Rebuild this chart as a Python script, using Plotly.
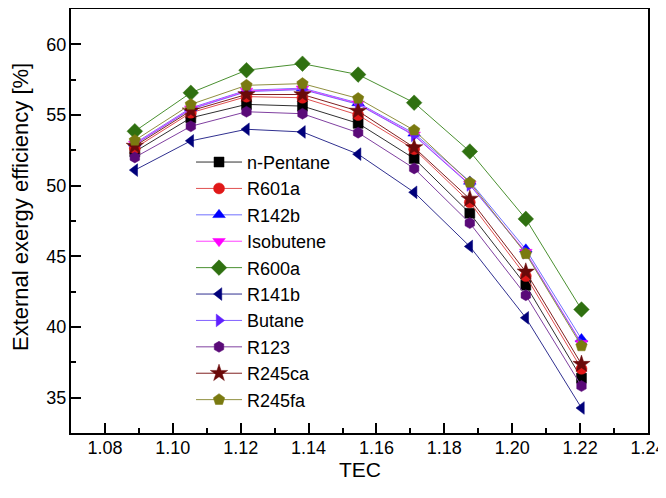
import plotly.graph_objects as go

tec = [1.0888, 1.1053, 1.1217, 1.1382, 1.1546, 1.1711, 1.1875, 1.2040, 1.2204]

names = ["n-Pentane", "R601a", "R142b", "Isobutene", "R600a", "R141b", "Butane", "R123", "R245ca", "R245fa"]

n_pentane = [52.4, 54.8, 55.75, 55.63, 54.41, 51.92, 48.05, 42.96, 36.38]
r601a = [52.65, 55.16, 56.3, 56.22, 55.0, 52.58, 48.82, 43.6, 37.04]
r142b = [53.0, 55.5, 56.75, 56.9, 55.85, 53.7, 50.3, 45.5, 39.15]
isobutene = [52.95, 55.45, 56.7, 56.85, 55.8, 53.6, 50.1, 45.3, 38.85]
r600a = [53.85, 56.57, 58.17, 58.63, 57.86, 55.87, 52.42, 47.65, 41.24]
r141b = [51.1, 53.17, 53.99, 53.8, 52.23, 49.53, 45.7, 40.65, 34.27]
butane = [52.9, 55.4, 56.65, 56.8, 55.75, 53.55, 50.05, 45.25, 38.8]
r123 = [52.0, 54.2, 55.23, 55.09, 53.75, 51.22, 47.35, 42.25, 35.82]
r245ca = [52.8, 55.3, 56.45, 56.45, 55.28, 52.7, 49.06, 43.9, 37.37]
r245fa = [53.2, 55.75, 57.1, 57.22, 56.17, 53.92, 50.23, 45.18, 38.66]

series = [n_pentane, r601a, r142b, isobutene, r600a, r141b, butane, r123, r245ca, r245fa]

x_title = "TEC"
y_title = "External exergy efficiency [%]"

symbols = ["square", "circle", "triangle-up", "triangle-down", "diamond",
           "triangle-left", "triangle-right", "hexagon", "star", "pentagon"]
marker_colors = ["#000000", "#e01818", "#0000ff", "#ff00ff", "#2f7010",
                 "#00007a", "#6020ff", "#5a0a78", "#6a0a0a", "#7a7a10"]
line_colors = ["#303030", "#e05050", "#7070ff", "#ff40ff", "#4a9030",
               "#303090", "#8060ff", "#8040a0", "#802020", "#909040"]
sizes = [10, 11, 11, 11, 12, 11, 11, 11, 13, 12]

fig = go.Figure()
for nm, ys, sym, mc, lc, sz in zip(names, series, symbols, marker_colors, line_colors, sizes):
    fig.add_trace(go.Scatter(
        x=tec, y=ys, name=nm, mode="lines+markers",
        line=dict(color=lc, width=1),
        marker=dict(symbol=sym, color=mc, size=sz, line=dict(color=mc, width=0.5)),
    ))

font_family = "Liberation Sans, Arial, sans-serif"
fig.update_layout(
    width=658, height=490,
    margin=dict(l=63, r=18, t=1, b=65, autoexpand=False),
    plot_bgcolor="white", paper_bgcolor="white",
    font=dict(family=font_family, color="#000000"),
    showlegend=True,
    legend=dict(
        x=0.208, y=0.682, xanchor="left", yanchor="top",
        bgcolor="rgba(0,0,0,0)", borderwidth=0,
        font=dict(size=18, family=font_family),
        itemwidth=46, tracegroupgap=0,
    ),
    annotations=[
        dict(text=x_title, xref="paper", yref="paper", x=0.5, y=0,
             xanchor="center", yanchor="middle", yshift=-36, showarrow=False,
             font=dict(size=21)),
        dict(text=y_title, xref="paper", yref="paper", x=0, y=0.533,
             xanchor="center", yanchor="middle", xshift=-51, textangle=-90,
             showarrow=False, font=dict(size=22)),
    ],
)
fig.update_xaxes(
    range=[1.07, 1.24], dtick=0.02, tick0=1.08, tickformat=".2f",
    ticks="inside", ticklen=10, tickwidth=1.5, tickcolor="#000",
    showline=True, linecolor="#000", linewidth=2, mirror=True,
    showgrid=False, zeroline=False, automargin=False,
    tickfont=dict(size=18), ticklabelstandoff=-3,
    minor=dict(ticks="inside", ticklen=5, dtick=0.01, tick0=1.07, tickcolor="#000", tickwidth=1.5, showgrid=False),
)
fig.update_yaxes(
    range=[32.5, 62.5], dtick=5, tick0=35,
    ticks="inside", ticklen=10, tickwidth=1.5, tickcolor="#000",
    showline=True, linecolor="#000", linewidth=2, mirror=True,
    showgrid=False, zeroline=False, automargin=False,
    tickfont=dict(size=18), ticklabelstandoff=-1,
    minor=dict(ticks="inside", ticklen=5, dtick=2.5, tick0=32.5, tickcolor="#000", tickwidth=1.5, showgrid=False),
)

fig.write_html("out.html")
